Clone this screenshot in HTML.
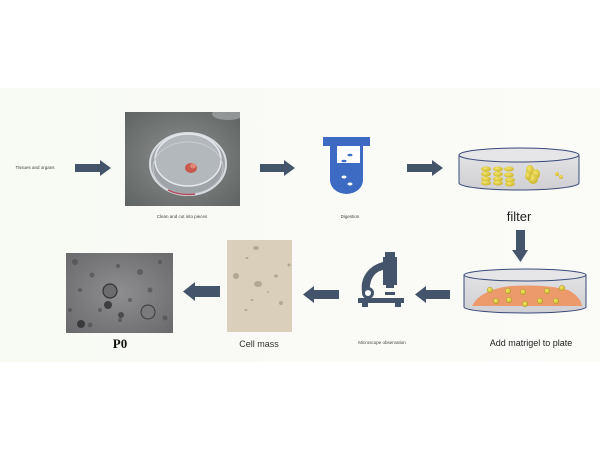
<!DOCTYPE html>
<html><head><meta charset="utf-8"><style>
html,body{margin:0;padding:0;background:#fff;}
svg{display:block;}
text{font-family:"Liberation Sans",sans-serif;}
</style></head><body>
<svg width="600" height="450" viewBox="0 0 600 450" xmlns="http://www.w3.org/2000/svg">
<defs>
<linearGradient id="bg" x1="0" y1="0" x2="1" y2="0">
<stop offset="0" stop-color="#f8faf4"/><stop offset="1" stop-color="#fbfbf8"/>
</linearGradient>
<radialGradient id="ph1" cx="0.5" cy="0.5" r="0.7">
<stop offset="0" stop-color="#8d908f"/><stop offset="1" stop-color="#5f6362"/>
</radialGradient>
<radialGradient id="p0g" cx="0.5" cy="0.5" r="0.7">
<stop offset="0" stop-color="#8e8e90"/><stop offset="1" stop-color="#6a6a6c"/>
</radialGradient>
<radialGradient id="coin" cx="0.4" cy="0.35" r="0.7">
<stop offset="0" stop-color="#f4e56a"/><stop offset="1" stop-color="#c9b22a"/>
</radialGradient>
<linearGradient id="dish" x1="0" y1="0" x2="0" y2="1">
<stop offset="0" stop-color="#e2e2e4"/><stop offset="1" stop-color="#d0d0d4"/>
</linearGradient>
<clipPath id="c1"><rect x="125" y="112" width="115" height="94"/></clipPath>
</defs>
<rect x="0" y="88" width="600" height="274" fill="url(#bg)"/>

<!-- Row 1 -->
<text x="35" y="169" font-size="4.5" text-anchor="middle" fill="#444">Tissues and organs</text>
<path d="M75,164 H100 V160 L111,168 L100,176 V172 H75 Z" fill="#44546a"/>

<!-- photo 1 -->
<g clip-path="url(#c1)">
<rect x="125" y="112" width="115" height="94" fill="url(#ph1)"/>
<ellipse cx="228" cy="114" rx="16" ry="6" fill="#a6a9aa" opacity="0.7"/>
<ellipse cx="188" cy="164" rx="38" ry="31" fill="#9fa4a8" stroke="#d8dbe0" stroke-width="2"/>
<ellipse cx="188" cy="160" rx="33" ry="26" fill="#b3b8bc" stroke="#e6e8ec" stroke-width="1.5"/>
<ellipse cx="188" cy="168" rx="35" ry="26" fill="none" stroke="#c9ccd2" stroke-width="1"/>
<path d="M168,190 Q180,196 195,194" stroke="#b0485a" stroke-width="1.5" fill="none"/>
<ellipse cx="191" cy="168" rx="6" ry="5" fill="#c8584c"/>
<ellipse cx="193" cy="166" rx="3" ry="2.5" fill="#e08a78"/>
</g>
<text x="182" y="218" font-size="4.5" text-anchor="middle" fill="#444">Clean and cut into pieces</text>

<path d="M260,164 H284 V160 L295,168 L284,176 V172 H260 Z" fill="#44546a"/>

<!-- test tube -->
<rect x="323" y="137" width="47" height="9" fill="#3d6bc4"/>
<path d="M330,146 H363 V180 A16.5,14 0 0 1 330,180 Z" fill="#3d6bc4"/>
<rect x="337" y="146" width="23" height="17" fill="#fff"/>
<ellipse cx="350" cy="155" rx="2.5" ry="1.3" fill="#3d6bc4"/>
<ellipse cx="344" cy="161" rx="2.5" ry="1.3" fill="#3d6bc4"/>
<ellipse cx="344" cy="177" rx="2.5" ry="1.5" fill="#fff"/>
<ellipse cx="350" cy="184" rx="2.5" ry="1.5" fill="#fff"/>
<text x="350" y="218" font-size="4.5" text-anchor="middle" fill="#444">Digestion</text>

<path d="M407,164 H432 V160 L443,168 L432,176 V172 H407 Z" fill="#44546a"/>

<!-- filter dish -->
<path d="M459,155 V183 A60,7 0 0 0 579,183 V155 Z" fill="url(#dish)" stroke="#3a4a78" stroke-width="1"/>
<ellipse cx="519" cy="155" rx="60" ry="7" fill="#e6e6e8" stroke="#3a4a78" stroke-width="1"/>
<g fill="url(#coin)">
<ellipse cx="486" cy="169" rx="5" ry="2.5"/><ellipse cx="486" cy="174" rx="5" ry="2.5"/><ellipse cx="486" cy="179" rx="5" ry="2.5"/><ellipse cx="486" cy="183" rx="5" ry="2.5"/>
<ellipse cx="498" cy="169" rx="5" ry="2.5"/><ellipse cx="498" cy="174" rx="5" ry="2.5"/><ellipse cx="498" cy="179" rx="5" ry="2.5"/><ellipse cx="498" cy="183" rx="5" ry="2.5"/>
<ellipse cx="509" cy="169" rx="5" ry="2.5"/><ellipse cx="509" cy="175" rx="5" ry="2.5"/><ellipse cx="510" cy="180" rx="5" ry="2.5"/><ellipse cx="510" cy="184" rx="5" ry="2.5"/>
<ellipse cx="530" cy="170" rx="4" ry="5"/><ellipse cx="536" cy="174" rx="4" ry="5"/><ellipse cx="533" cy="179" rx="5" ry="5"/><ellipse cx="528" cy="176" rx="3" ry="4"/>
<ellipse cx="557" cy="174" rx="2" ry="2"/><ellipse cx="561" cy="177" rx="2" ry="2"/>
</g>
<text x="519" y="221" font-size="13" text-anchor="middle" fill="#222">filter</text>

<path d="M516,230 H525 V250 H528 L520.5,262 L512,250 H516 Z" fill="#44546a"/>

<!-- Row 2 -->
<!-- matrigel dish -->
<path d="M464,275 V307 A61,6 0 0 0 586,307 V275 Z" fill="url(#dish)" stroke="#3a4a78" stroke-width="1"/>
<ellipse cx="525" cy="275" rx="61" ry="6" fill="#e6e6e8" stroke="#3a4a78" stroke-width="1"/>
<path d="M472,306 Q480,290 510,286 Q545,284 568,290 Q580,296 582,306 Z" fill="#ec9a6c"/>
<g fill="url(#coin)" stroke="#9a8a20" stroke-width="0.4">
<circle cx="490" cy="290" r="2.8"/><circle cx="508" cy="291" r="2.8"/><circle cx="523" cy="292" r="2.8"/><circle cx="547" cy="291" r="2.8"/><circle cx="562" cy="288" r="2.8"/>
<circle cx="496" cy="301" r="2.8"/><circle cx="509" cy="300" r="2.8"/><circle cx="525" cy="304" r="2.8"/><circle cx="540" cy="301" r="2.8"/><circle cx="556" cy="301" r="2.8"/>
</g>
<text x="531" y="346" font-size="9" text-anchor="middle" fill="#222">Add matrigel to plate</text>

<path d="M450,290 H426 V286 L415,294.5 L426,303 V299 H450 Z" fill="#44546a"/>

<!-- microscope -->
<g fill="#44546a">
<rect x="385" y="252" width="10" height="5"/>
<rect x="383" y="257" width="14" height="28"/>
<rect x="386" y="285" width="8" height="3"/>
<path d="M383,262 C368,266 360,278 362,292 L370,292 C369,280 374,272 383,270 Z"/>
<circle cx="368" cy="293" r="6"/>
<rect x="385" y="292" width="10" height="3"/>
<rect x="358" y="298" width="46" height="5"/>
<rect x="362" y="303" width="6" height="4"/>
<rect x="395" y="303" width="6" height="4"/>
</g>
<circle cx="368" cy="293" r="3" fill="#fff"/>
<text x="382" y="344" font-size="4.5" text-anchor="middle" fill="#444">Microscope observation</text>

<path d="M339,290 H314 V286 L303,294.5 L314,303 V299 H339 Z" fill="#44546a"/>

<!-- cell mass photo -->
<rect x="227" y="240" width="65" height="92" fill="#d9cfba"/>
<g fill="#a89f8a" opacity="0.8">
<ellipse cx="256" cy="248" rx="3" ry="2"/><ellipse cx="247" cy="258" rx="1.5" ry="1"/><ellipse cx="236" cy="276" rx="3" ry="3"/><ellipse cx="258" cy="284" rx="4" ry="3"/><ellipse cx="276" cy="276" rx="2" ry="1.5"/><ellipse cx="281" cy="303" rx="2" ry="2"/><ellipse cx="252" cy="300" rx="1.5" ry="1"/><ellipse cx="246" cy="310" rx="1.5" ry="1"/><ellipse cx="289" cy="265" rx="1.5" ry="1.5"/><ellipse cx="268" cy="292" rx="1" ry="1"/>
</g>
<text x="259" y="347" font-size="9" text-anchor="middle" fill="#333">Cell mass</text>

<path d="M220,286 H195 V282 L183,291.5 L195,301 V297 H220 Z" fill="#44546a"/>

<!-- P0 photo -->
<rect x="66" y="253" width="107" height="80" fill="url(#p0g)"/>
<g fill="#4a4a4c" opacity="0.6">
<circle cx="75" cy="262" r="3"/><circle cx="92" cy="275" r="2.5"/><circle cx="118" cy="266" r="2"/><circle cx="140" cy="272" r="3"/><circle cx="160" cy="262" r="2"/><circle cx="150" cy="290" r="2.5"/><circle cx="80" cy="290" r="2"/><circle cx="100" cy="310" r="2"/><circle cx="165" cy="318" r="2.5"/><circle cx="130" cy="300" r="2"/><circle cx="90" cy="325" r="2.5"/><circle cx="120" cy="320" r="2"/><circle cx="145" cy="310" r="2.5"/><circle cx="70" cy="310" r="2"/><circle cx="110" cy="285" r="1.5"/>
</g>
<circle cx="110" cy="291" r="7" fill="#6c6c6e" stroke="#333" stroke-width="1.2"/>
<circle cx="108" cy="305" r="4" fill="#3e3e40"/>
<circle cx="148" cy="312" r="7" fill="#7a7a7c" stroke="#3a3a3c" stroke-width="1"/>
<circle cx="81" cy="324" r="4" fill="#3a3a3c"/>
<circle cx="121" cy="315" r="3" fill="#4a4a4c"/>
<text x="120" y="348" font-size="13" font-weight="bold" text-anchor="middle" fill="#111" style="font-family:'Liberation Serif',serif">P0</text>
</svg>
</body></html>
